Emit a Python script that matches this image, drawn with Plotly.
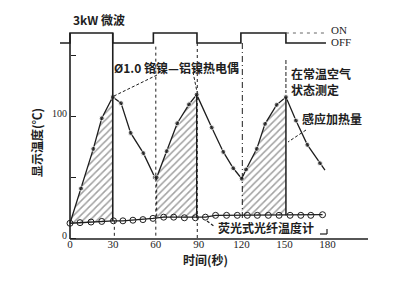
import numpy as np
import plotly.graph_objects as go

# ---------------- data ----------------
fiber_t = [0, 7, 14.7, 22.2, 30.4, 37, 44, 51, 58, 65.5, 72.5, 80, 87.7, 94.7,
           101.8, 109.5, 117, 124, 131, 138.7, 146.2, 153.9, 161.4, 168.4, 176.6]
fiber_T = [12.5, 13, 13.5, 14, 14.5, 14.5, 15, 15.5, 16.5, 17.5, 17.5, 17, 17, 17.5,
           19, 19, 19, 19, 19, 19, 19, 19, 19, 19, 19.5]

tc_t = [0, 7.7, 16.3, 22.2, 29.9, 35.7, 42.4, 51.3, 59.4, 60.6, 67.6, 75, 83.2, 88.6,
        99.1, 107.2, 114.2, 120.1, 123.1, 130.6, 136.4, 144.5, 151, 158, 166, 174.8, 178.3]
tc_T = [12.5, 41, 73.5, 98.6, 116, 111, 86.6, 70, 50, 50, 71.6, 94.5, 110, 118,
        91, 71, 57.6, 49, 56.6, 73.5, 94, 109.6, 116, 96.7, 76.8, 61.7, 56]

heating_phases = [(0, 4), (9, 13), (17, 22)]   # index ranges of tc heating parts

switch_t = [-7, 0, 29.9, 58.3, 88.8, 119.5, 151, 179]
switch_state = [0, 1, 0, 1, 0, 1, 0, 0]

x_ticks = [0, 30, 60, 90, 120, 150, 180]
y_ticks = [0, 50, 100, 150]
y_ticktext = ["0", "", "100", ""]

# ---------------- geometry helpers ----------------
W, H = 415, 295
L, R, TOP, BOT = 59, 369, 25, 240
PX0, SX = 70, 1.43
PY0, SY = 238.5, 1.2194

def pt(px):
    return (px - PX0) / SX

def pT(py):
    return (PY0 - py) / SY

def paper_x(px):
    return (px - L) / (R - L)

def paper_y(py):
    return (BOT - py) / (BOT - TOP)

ON_LEVEL, OFF_LEVEL = pT(33), pT(43)
INK = "#1e1e1e"
CJK = "Noto Sans CJK SC"

fig = go.Figure()

# hatched heating areas
for i0, i1 in heating_phases:
    xs = list(tc_t[i0:i1 + 1])
    ys = list(tc_T[i0:i1 + 1])
    t_a, t_b = tc_t[i0], tc_t[i1]
    fx = [t_b] + [t for t in fiber_t[::-1] if t_a < t < t_b] + [t_a]
    fy = list(np.interp(fx, fiber_t, fiber_T))
    fig.add_trace(go.Scatter(
        x=xs + fx, y=ys + fy, fill="toself", mode="lines",
        line=dict(width=0), fillcolor="rgba(255,255,255,0)",
        fillpattern=dict(shape="/", size=5, solidity=0.3, fgcolor="#444"),
        hoverinfo="skip", showlegend=False))

# microwave on/off signal
sig_y = [ON_LEVEL if s else OFF_LEVEL for s in switch_state]
fig.add_trace(go.Scatter(x=switch_t, y=sig_y, mode="lines", line_shape="hv",
                         line=dict(color=INK, width=1.6), showlegend=False))
fig.add_trace(go.Scatter(x=[switch_t[-2], switch_t[-1] - 1], y=[ON_LEVEL, ON_LEVEL], mode="lines",
                         line=dict(color="#666", width=1, dash="3px,4px"), showlegend=False))

# fiber optic thermometer
fig.add_trace(go.Scatter(x=fiber_t, y=fiber_T, mode="lines+markers",
                         line=dict(color=INK, width=1.3),
                         marker=dict(symbol="circle-open", size=6, color=INK, line=dict(width=1)),
                         showlegend=False))

# thermocouple
sizes = [0] + [5] * (len(tc_t) - 2) + [0]
fig.add_trace(go.Scatter(x=tc_t, y=tc_T, mode="lines+markers",
                         line=dict(color=INK, width=1.3),
                         marker=dict(symbol="circle", size=sizes, color=INK),
                         showlegend=False))

shapes = []
def vline(x, y0, y1, dash="solid", width=1.0, color=INK):
    shapes.append(dict(type="line", xref="x", yref="y", x0=x, x1=x, y0=y0, y1=y1,
                       line=dict(color=color, width=width, dash=dash)))

def seg(px0, py0, px1, py1, dash="3px,2px", width=1.0):
    shapes.append(dict(type="line", xref="x", yref="y", x0=pt(px0), y0=pT(py0),
                       x1=pt(px1), y1=pT(py1), line=dict(color=INK, width=width, dash=dash)))

# axes drawn as lines
shapes.append(dict(type="line", xref="x", yref="y", x0=0, x1=pt(368), y0=pT(239), y1=pT(239),
                   line=dict(color=INK, width=1.6)))
vline(0, pT(239), ON_LEVEL, width=1.6)

# vertical guide lines
vline(tc_t[4], ON_LEVEL, np.interp(tc_t[4], fiber_t, fiber_T), width=1.6)
vline(31, np.interp(31, fiber_t, fiber_T), 0, dash="dot", width=1)
vline(60, OFF_LEVEL - 3, 0, dash="dot", width=1)
vline(tc_t[13] + 0.4, OFF_LEVEL, 0, dash="dot", width=1)
vline(tc_t[13], tc_T[13], np.interp(tc_t[13], fiber_t, fiber_T), width=1.4)
vline(tc_t[9], tc_T[9], np.interp(tc_t[9], fiber_t, fiber_T), dash="dot", width=1)
vline(120.5, OFF_LEVEL, 15, dash="6px,3px,1px,3px", width=1)
vline(tc_t[22], tc_T[22], np.interp(tc_t[22], fiber_t, fiber_T), width=1.5)
vline(tc_t[22], pT(60), pT(93), dash="4px,2px", width=1)

# leader lines
seg(157, 75, 114, 96)
seg(193, 72, 197, 92)
seg(306, 130, 288, 142)
seg(207, 221, 215, 227, width=1.2)
seg(320, 234, 327, 234, dash="solid", width=1.2)
seg(327, 234, 327, 229, dash="solid", width=1.2)

annotations = []
def text(s, px, py, size=12, xanchor="left", angle=0, family=CJK, weight="bold", align="left"):
    annotations.append(dict(text=s, x=paper_x(px), y=paper_y(py), xref="paper", yref="paper",
                            xanchor=xanchor, yanchor="middle", showarrow=False, textangle=angle,
                            align=align,
                            font=dict(family=family, size=size, color=INK, weight=weight)))

text("3kW 微波", 71, 20, size=12)
text("Ø1.0 铬镍—铝镍热电偶", 112, 67, size=12)
text("在常温空气<br>状态测定", 289, 81, size=12)
text("感应加热量", 300, 118, size=12)
text("荧光式光纤温度计", 216, 227, size=12)
text("ON", 329, 30, size=11, family="Liberation Serif", weight="normal")
text("OFF", 329, 42, size=11, family="Liberation Serif", weight="normal")
text("时间(秒)", 205, 259, size=12, xanchor="center")
text("显示温度(℃)", 36, 143, size=12, xanchor="center", angle=-90)

fig.update_layout(
    width=W, height=H,
    margin=dict(l=L, r=W - R, t=TOP, b=H - BOT, pad=0),
    paper_bgcolor="white", plot_bgcolor="white",
    shapes=shapes, annotations=annotations,
    xaxis=dict(range=[pt(L), pt(R)], showgrid=False, zeroline=False, showline=False,
               anchor="free", position=paper_y(235.5),
               tickvals=x_ticks, ticks="", tickfont=dict(family="Liberation Serif", size=11, color=INK)),
    yaxis=dict(range=[pT(BOT), pT(TOP)], showgrid=False, zeroline=False, showline=False,
               anchor="free", position=paper_x(PX0),
               tickvals=y_ticks, ticktext=y_ticktext, ticks="inside", ticklen=5,
               tickcolor=INK, tickwidth=1, ticklabelstandoff=3, ticklabelshift=-3,
               tickfont=dict(family="Liberation Serif", size=10, color=INK)),
)

fig.write_html("out.html")
